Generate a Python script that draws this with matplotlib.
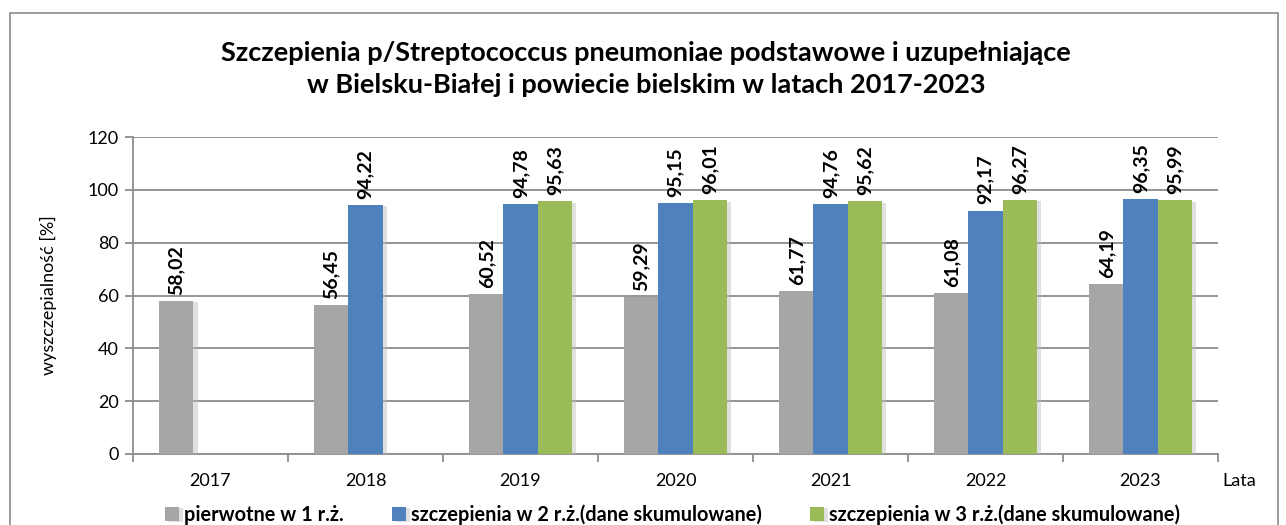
import matplotlib.pyplot as plt
import matplotlib.patheffects as pe
from matplotlib.patches import Rectangle
import numpy as np

plt.rcParams['font.family'] = ['Lato', 'DejaVu Sans']

years = ['2017', '2018', '2019', '2020', '2021', '2022', '2023']
pierwotne = [58.02, 56.45, 60.52, 59.29, 61.77, 61.08, 64.19]
rz2 = [None, 94.22, 94.78, 95.15, 94.76, 92.17, 96.35]
rz3 = [None, None, 95.63, 96.01, 95.62, 96.27, 95.99]

series = [
    ('pierwotne w 1 r.ż.', pierwotne, '#A6A6A6'),
    ('szczepienia w 2 r.ż.(dane skumulowane)', rz2, '#4F81BD'),
    ('szczepienia w 3 r.ż.(dane skumulowane)', rz3, '#9BBB59'),
]

fig = plt.figure(figsize=(12.86, 5.25), dpi=100)
fig.patches.append(Rectangle((10 / 1286, 1 - 540 / 525), 1268 / 1286, 527 / 525,
                             transform=fig.transFigure, fill=False,
                             edgecolor='#8C8C8C', linewidth=1.2))
ax = fig.add_axes([133 / 1286, 1 - 454 / 525, 1085 / 1286, 317 / 525])

x = np.arange(len(years))
w = 0.22
shadow = [pe.SimplePatchShadow(offset=(3, -1), shadow_rgbFace='#BBBBBB', alpha=0.45), pe.Normal()]
for i, (name, vals, col) in enumerate(series):
    xs = [xi + (i - 1) * w for xi, v in zip(x, vals) if v is not None]
    vs = [v for v in vals if v is not None]
    bars = ax.bar(xs, vs, w, color=col, label=name, zorder=3)
    for b in bars:
        b.set_path_effects(shadow)
    for xi, v in zip(xs, vs):
        ax.text(xi, v + 2.3, f'{v:.2f}'.replace('.', ','), rotation=90,
                ha='center', va='bottom', fontsize=14, fontweight='bold', zorder=4)

ax.set_xlim(-0.5, len(years) - 0.5)
ax.set_ylim(0, 120)
ax.set_yticks(range(0, 121, 20))
ax.yaxis.grid(True, color='#8C8C8C', linewidth=1.3, zorder=0)
ax.set_axisbelow(True)
ax.set_xticks(x)
ax.set_xticklabels(years)
ax.set_xticks(np.arange(-0.5, len(years)), minor=True)
ax.tick_params(axis='x', which='major', length=0, pad=14, labelsize=13)
ax.tick_params(axis='x', which='minor', length=6, color='#8C8C8C', width=1.3)
ax.tick_params(axis='y', length=6, color='#8C8C8C', width=1.3, labelsize=13, pad=4)
for s in ['top', 'right']:
    ax.spines[s].set_visible(False)
for s in ['left', 'bottom']:
    ax.spines[s].set_color('#8C8C8C')
    ax.spines[s].set_linewidth(1.3)

ax.set_ylabel('wyszczepialność [%]', fontsize=13, labelpad=22)
fig.text(1222 / 1286, 1 - 481 / 525, 'Lata', fontsize=13, ha='left', va='center')

fig.text(646 / 1286, 1 - 53 / 525,
         'Szczepienia p/Streptococcus pneumoniae podstawowe i uzupełniające',
         fontsize=19.5, fontweight='bold', ha='center', va='center')
fig.text(646 / 1286, 1 - 85 / 525,
         'w Bielsku-Białej i powiecie bielskim w latach 2017-2023',
         fontsize=19.5, fontweight='bold', ha='center', va='center')

ax.legend(loc='center', bbox_to_anchor=(0.5 - 3 / 1085, -0.19), ncol=3, frameon=False,
          prop={'weight': 'bold', 'size': 14.3}, handlelength=0.7, handleheight=0.7,
          handletextpad=0.28, columnspacing=2.4, borderaxespad=0)

fig.savefig('out.png', dpi=100)
